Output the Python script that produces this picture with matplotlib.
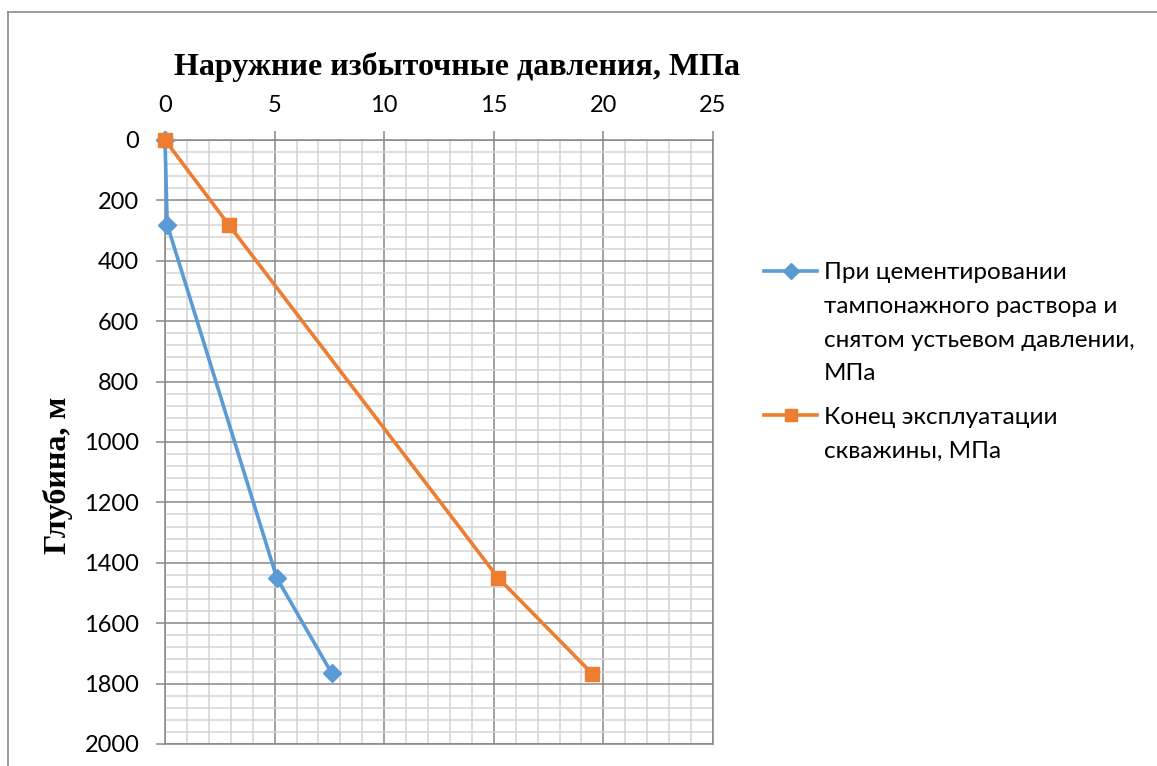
import numpy as np
import matplotlib.pyplot as plt
from matplotlib.lines import Line2D
from matplotlib.ticker import MultipleLocator

# depth, m
depth = [0, 280, 1450, 1765]
depth2 = [0, 280, 1450, 1768]
# pressures, MPa
p_cement = [0, 0.1, 5.1, 7.6]
p_end = [0, 2.9, 15.2, 19.5]

label1 = 'При цементировании\nтампонажного раствора и\nснятом устьевом давлении,\nМПа'
label2 = 'Конец эксплуатации\nскважины, МПа'

W, H = 1157, 766
fig = plt.figure(figsize=(W / 100, H / 100), dpi=100)
ax = fig.add_axes([165 / W, 1 - 744 / H, 548 / W, 604 / H])

blue = '#5B9BD5'
orange = '#ED7D31'
ax.plot(p_cement, depth, color=blue, lw=2.6, marker='D', ms=9, zorder=3,
        clip_on=False, label=label1)
ax.plot(p_end, depth2, color=orange, lw=2.6, marker='s', ms=10.5, zorder=3,
        clip_on=False, label=label2)

ax.set_xlim(0, 25)
ax.set_ylim(2000, 0)
ax.xaxis.set_major_locator(MultipleLocator(5))
ax.xaxis.set_minor_locator(MultipleLocator(1))
ax.yaxis.set_major_locator(MultipleLocator(200))
ax.yaxis.set_minor_locator(MultipleLocator(40))
ax.xaxis.tick_top()
ax.grid(which='major', color='#878787', lw=1.1)
ax.grid(which='minor', color='#d4d4d4', lw=1.1)
ax.set_axisbelow(True)
for s in ax.spines.values():
    s.set_color('#878787')
    s.set_linewidth(1.1)
ax.tick_params(which='major', length=6.5, color='#878787', width=1.1,
               labelsize=17)
ax.tick_params(axis='y', pad=12)
ax.tick_params(axis='x', pad=11)
ax.tick_params(which='minor', length=0)
for t in ax.get_xticklabels() + ax.get_yticklabels():
    t.set_fontfamily('Lato')

fig.text(457 / W, 1 - 67 / H, 'Наружние избыточные давления, МПа',
         family='Liberation Serif', weight='bold', fontsize=23,
         ha='center', va='center')
fig.text(58 / W, 1 - 475 / H, 'Глубина, м', family='Liberation Serif',
         weight='bold', fontsize=23, rotation=90, ha='center', va='center')

leg = fig.legend(loc='upper left', bbox_to_anchor=(764 / W, 1 - 262 / H),
                 frameon=False, prop={'family': 'Lato', 'size': 17.5},
                 handlelength=2.2, handletextpad=0.25, labelspacing=0.92,
                 borderaxespad=0, borderpad=0)
for t in leg.get_texts():
    t.set_linespacing(1.75)
# put the legend marker next to the first line of each label
for col in leg._legend_handle_box.get_children():
    for row in col.get_children():
        row.align = 'top'
for lh in leg.legend_handles:
    lh.set_markersize(8)

# outer frame (top and left edges only visible)
fig.add_artist(Line2D([8 / W, 1], [1 - 12 / H, 1 - 12 / H], color='#8c8c8c', lw=1.2))
fig.add_artist(Line2D([8 / W, 8 / W], [0, 1 - 12 / H], color='#8c8c8c', lw=1.2))

fig.savefig('out.png', dpi=100)
